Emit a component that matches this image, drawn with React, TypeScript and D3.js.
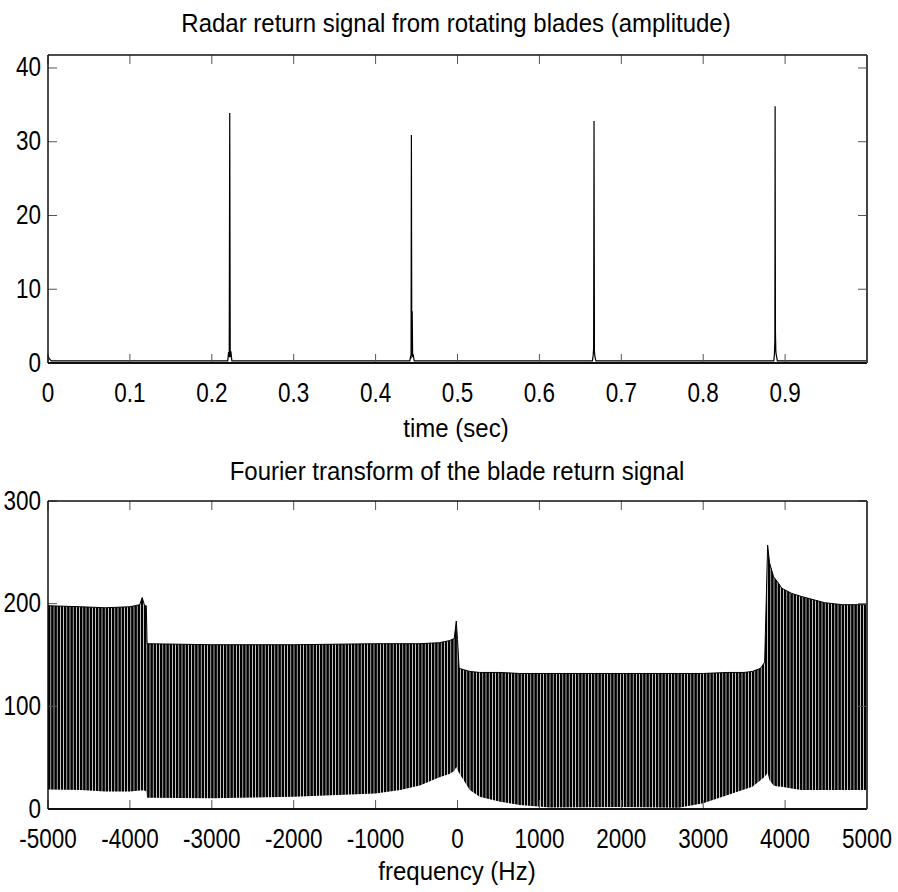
import React from 'react';
import * as d3 from 'd3';

// ---- Top panel: radar return amplitude vs time ----
const timeSec = [
  0, 0.0015, 0.004, 0.05, 0.1, 0.15, 0.2,
  0.2195, 0.2205, 0.2213, 0.2219, 0.2225, 0.2233, 0.2245,
  0.3, 0.35, 0.4,
  0.4418, 0.4428, 0.4433, 0.4437, 0.4442, 0.4447, 0.4452, 0.4461, 0.4472,
  0.5, 0.55, 0.6,
  0.6648, 0.6656, 0.6662, 0.6667, 0.6672, 0.6679, 0.669,
  0.7, 0.75, 0.8,
  0.8862, 0.8870, 0.8875, 0.8878, 0.8882, 0.8887, 0.8894, 0.8905,
  0.95, 0.999,
];
const amplitude = [
  1.0, 0.6, 0.3, 0.3, 0.3, 0.3, 0.3,
  0.3, 1.5, 0.8, 33.9, 0.8, 1.6, 0.3,
  0.3, 0.3, 0.3,
  0.3, 1.0, 0.6, 30.9, 1.0, 7.0, 0.8, 1.0, 0.3,
  0.3, 0.3, 0.3,
  0.3, 1.0, 2.0, 32.8, 1.5, 0.8, 0.3,
  0.3, 0.3, 0.3,
  0.3, 1.2, 3.0, 34.8, 4.2, 1.5, 1.0, 0.3,
  0.3, 0.3,
];
const timeTicks = [0, 0.1, 0.2, 0.3, 0.4, 0.5, 0.6, 0.7, 0.8, 0.9];
const ampTicks = [0, 10, 20, 30, 40];

// ---- Bottom panel: Fourier transform envelope (max / min per frequency) ----
const freqHz = [
  -5000, -4600, -4300, -4000, -3880, -3850, -3820, -3800, -3790, -3000, -2000, -1000,
  -700, -460, -220, -100, -40, -15, 0, 20, 150, 270, 520, 760, 1130, 2000, 2700,
  3000, 3300, 3500, 3600, 3700, 3750, 3787, 3810, 3860, 3910, 3960, 4080, 4200,
  4480, 4700, 5000,
];
const fftUpper = [
  198, 197, 196, 197, 199, 206, 198, 198, 161, 160, 160, 161,
  161, 161, 162, 164, 166, 183, 165, 137, 134, 133, 133, 132, 132, 132, 132,
  132, 133, 133, 134, 137, 143, 257, 240, 226, 221, 215, 210, 207,
  201, 199, 199,
];
const fftLower = [
  19, 18.5, 17, 17, 18, 18, 18, 17, 11, 10.5, 12, 15,
  18.5, 23, 31, 34, 37, 41, 38, 35, 18.5, 12, 7, 4, 1.5, 2, 1.3,
  5.5, 13.6, 19, 21.7, 28, 31.5, 35, 28, 23, 22, 21.7, 20, 18.5,
  18.5, 18.5, 18.5,
];
const freqTicks = [-5000, -4000, -3000, -2000, -1000, 0, 1000, 2000, 3000, 4000, 5000];
const magTicks = [0, 100, 200, 300];

const W = 898;
const H = 892;
const L = 48;
const R = 867;
const TOP1 = 55;
const BOT1 = 363;
const TOP2 = 501;
const BOT2 = 809;
const FONT = "'Liberation Sans', Arial, sans-serif";

function Txt({ x, y, size, sy, anchor = 'middle', children }: any) {
  return (
    <text
      transform={`translate(${x},${y}) scale(1,${sy})`}
      fontSize={size}
      textAnchor={anchor}
      fontFamily={FONT}
      fill="#000"
    >
      {children}
    </text>
  );
}

function Frame({ x, y, xTicks, yTicks, top, bot, fmtX }: any) {
  const tl = 9;
  return (
    <g>
      {xTicks.map((t: number, i: number) => (
        <g key={'x' + i}>
          <line x1={x(t)} x2={x(t)} y1={bot} y2={bot - tl} stroke="#555" strokeWidth={1} />
          <line x1={x(t)} x2={x(t)} y1={top} y2={top + tl} stroke="#555" strokeWidth={1} />
        </g>
      ))}
      {yTicks.map((t: number, i: number) => (
        <g key={'y' + i}>
          <line x1={L} x2={L + tl} y1={y(t)} y2={y(t)} stroke="#555" strokeWidth={1} />
          <line x1={R} x2={R - tl} y1={y(t)} y2={y(t)} stroke="#555" strokeWidth={1} />
        </g>
      ))}
      <line x1={L} x2={R} y1={top} y2={top} stroke="#111" strokeWidth={1.5} />
      <line x1={L} x2={R} y1={bot} y2={bot} stroke="#111" strokeWidth={2} />
      <line x1={L} x2={L} y1={top} y2={bot} stroke="#111" strokeWidth={1.5} />
      <line x1={R} x2={R} y1={top} y2={bot} stroke="#444" strokeWidth={2} />
      {xTicks.map((t: number, i: number) => (
        <Txt key={'xl' + i} x={x(t)} y={bot + 38.5} size={22.5} sy={1.2}>
          {fmtX(t)}
        </Txt>
      ))}
      {yTicks.map((t: number, i: number) => (
        <Txt key={'yl' + i} x={41} y={y(t) + 8.5} size={22.5} sy={1.2} anchor="end">
          {String(t)}
        </Txt>
      ))}
    </g>
  );
}

export default function App() {
  const xT = d3.scaleLinear().domain([0, 1]).range([L, R]);
  const yA = d3.scaleLinear().domain([0, 41.76]).range([BOT1, TOP1]);
  const xF = d3.scaleLinear().domain([-5000, 5000]).range([L, R]);
  const yM = d3.scaleLinear().domain([0, 300]).range([BOT2, TOP2]);

  const sig = timeSec.map((t, i) => [t, amplitude[i]] as [number, number]);
  const sigPath = d3
    .line<[number, number]>()
    .x((d) => xT(d[0]))
    .y((d) => yA(d[1]))(sig) as string;

  const env = freqHz.map((f, i) => ({ f, hi: fftUpper[i], lo: fftLower[i] }));
  const areaPath = d3
    .area<any>()
    .x((d) => xF(d.f))
    .y0((d) => yM(d.lo))
    .y1((d) => yM(d.hi))(env) as string;
  const topPath = d3
    .line<any>()
    .x((d) => xF(d.f))
    .y((d) => yM(d.hi))(env) as string;

  return (
    <svg
      width={W}
      height={H}
      style={{ position: 'absolute', left: 0, top: 0, background: '#fff' }}
    >
      <defs>
        <pattern id="hatch" patternUnits="userSpaceOnUse" x={L} y={0} width={3.2} height={10}>
          <rect x={0} y={0} width={2.5} height={10} fill="#000" />
        </pattern>
        <clipPath id="clip1">
          <rect x={L} y={TOP1} width={R - L} height={BOT1 - TOP1} />
        </clipPath>
      </defs>
      <rect x={0} y={0} width={W} height={H} fill="#fff" />

      {/* Top panel */}
      <Txt x={456} y={32} size={24} sy={1.1}>
        Radar return signal from rotating blades (amplitude)
      </Txt>
      <path d={sigPath} fill="none" stroke="#000" strokeWidth={1.2} clipPath="url(#clip1)" />
      <Frame
        x={xT}
        y={yA}
        xTicks={timeTicks}
        yTicks={ampTicks}
        top={TOP1}
        bot={BOT1}
        fmtX={(t: number) => String(t)}
      />
      <Txt x={456} y={437} size={24} sy={1.1}>
        time (sec)
      </Txt>

      {/* Bottom panel */}
      <Txt x={457} y={480} size={24} sy={1.1}>
        Fourier transform of the blade return signal
      </Txt>
      <path d={areaPath} fill="url(#hatch)" stroke="none" />
      <path d={topPath} fill="none" stroke="#000" strokeWidth={1} />
      <Frame
        x={xF}
        y={yM}
        xTicks={freqTicks}
        yTicks={magTicks}
        top={TOP2}
        bot={BOT2}
        fmtX={(t: number) => String(t)}
      />
      <Txt x={457} y={880} size={24} sy={1.1}>
        frequency (Hz)
      </Txt>
    </svg>
  );
}
